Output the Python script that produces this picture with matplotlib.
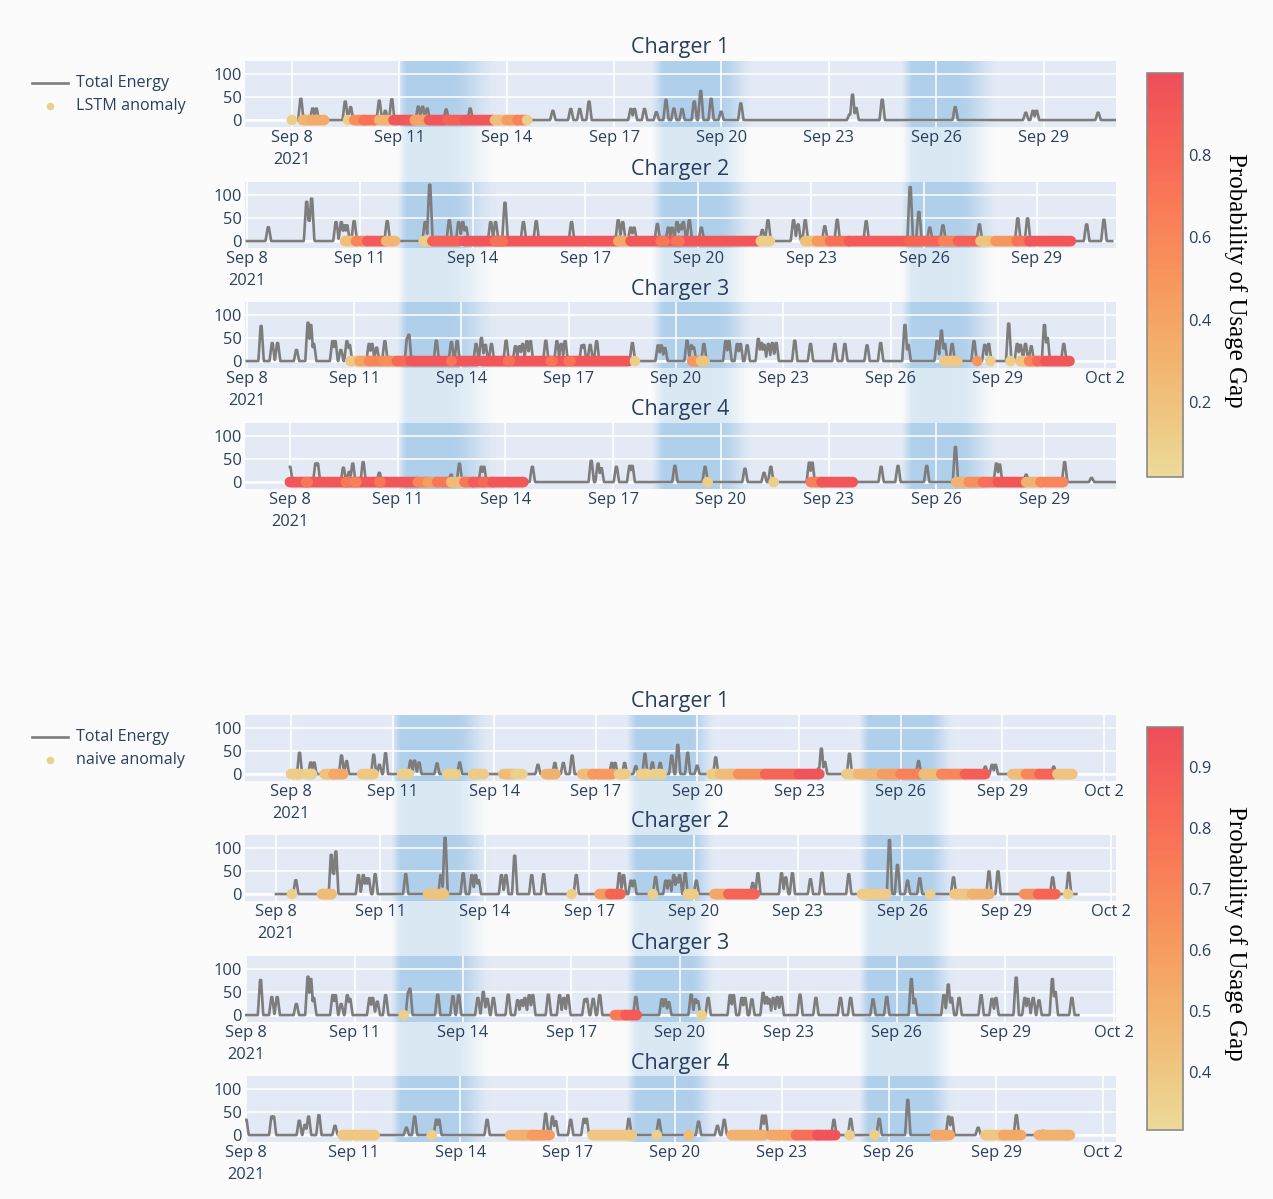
import numpy as np
import matplotlib
matplotlib.use("Agg")
import matplotlib.pyplot as plt
from matplotlib.colors import LinearSegmentedColormap, Normalize
from matplotlib.cm import ScalarMappable
from matplotlib.lines import Line2D

plt.rcParams['font.family'] = ['Open Sans', 'DejaVu Sans']

# ---------------- data (time axis: days since 2021-09-08) ----------------
tick_days = [0, 3, 6, 9, 12, 15, 18, 21, 24]
tick_labels = ["Sep 8\n2021", "Sep 11", "Sep 14", "Sep 17", "Sep 20",
               "Sep 23", "Sep 26", "Sep 29", "Oct 2"]
charger_names = ["Charger 1", "Charger 2", "Charger 3", "Charger 4"]

# total energy: spike times (days) and peak energy
c1_days = [0.25, 0.58, 0.68, 1.49, 1.64, 2.44, 2.61, 2.79, 3.53, 3.65, 3.78, 4.31, 4.98,
           7.29, 7.79, 8.04, 8.30, 9.47, 9.57, 9.85, 10.18, 10.45, 10.67, 10.90, 11.24,
           11.42, 11.71, 11.99, 12.54, 15.58, 15.66, 15.76, 16.49, 18.53, 20.50, 20.70,
           20.80, 22.52]
c1_energy = [46, 25, 25, 40, 28, 42, 20, 45, 29, 29, 25, 23, 25,
             20, 24, 24, 40, 24, 24, 24, 17, 44, 25, 24, 40,
             63, 46, 18, 36, 12, 55, 26, 44, 28, 16, 20,
             20, 16]
c2_days = [0.57, 1.59, 1.65, 1.72, 2.37, 2.51, 2.59, 2.66, 2.85, 3.73, 4.74, 4.86, 5.38,
           5.63, 5.74, 5.82, 6.48, 6.61, 6.86, 7.35, 7.69, 8.63, 9.87, 9.99, 10.20, 10.29,
           10.91, 11.20, 11.30, 11.43, 11.52, 11.60, 11.76, 12.08, 13.70, 13.85, 14.53,
           14.65, 14.84, 15.36, 15.69, 16.46, 17.63, 17.86, 18.15, 18.50, 19.47, 20.49,
           20.75, 22.32, 22.78]
c2_energy = [30, 85, 45, 92, 41, 41, 34, 34, 43, 43, 41, 122, 45,
             41, 41, 30, 41, 41, 83, 41, 43, 41, 45, 41, 29, 29,
             37, 29, 29, 41, 35, 41, 45, 29, 24, 45, 45,
             36, 45, 32, 46, 43, 117, 63, 29, 34, 36, 49,
             49, 36, 46]
c3_days = [0.40, 0.71, 0.86, 1.39, 1.71, 1.79, 1.87, 2.40, 2.47, 2.63, 2.80, 2.87, 3.42,
           3.50, 3.63, 3.86, 4.49, 4.53, 5.30, 5.72, 5.88, 6.41, 6.56, 6.67, 6.84, 7.25,
           7.51, 7.62, 7.71, 7.83, 7.93, 8.36, 8.67, 8.79, 8.90, 9.37, 9.42, 9.60, 9.78,
           10.78, 11.50, 11.59, 11.69, 12.31, 12.43, 12.49, 12.78, 13.39, 13.48, 13.71,
           13.80, 13.99, 14.30, 14.39, 14.46, 14.58, 14.69, 14.80, 15.32, 15.76, 16.44,
           16.72, 17.34, 17.72, 18.40, 18.49, 19.30, 19.42, 19.51, 19.72, 20.33, 20.63,
           20.74, 21.30, 21.54, 21.63, 21.77, 21.93, 22.30, 22.38, 22.84]
c3_energy = [76, 39, 39, 24, 83, 78, 37, 43, 43, 24, 43, 35, 37,
             37, 29, 43, 50, 57, 44, 41, 43, 37, 50, 35, 37, 44,
             32, 32, 37, 43, 43, 44, 43, 37, 43, 34, 35, 35, 43,
             39, 34, 34, 28, 44, 34, 30, 37, 43, 43, 37,
             37, 34, 48, 39, 35, 37, 39, 39, 44, 37, 37,
             37, 34, 39, 78, 35, 43, 66, 37, 37, 43, 35,
             37, 81, 37, 35, 37, 32, 78, 50, 37]
c4_days = [0.00, 0.72, 0.77, 1.49, 1.65, 1.75, 2.04, 2.49, 4.49, 4.72, 5.33, 5.40, 6.75,
           8.39, 8.58, 8.67, 9.09, 9.46, 9.53, 10.72, 11.56, 12.67, 13.20, 13.39, 14.46,
           14.54, 16.46, 16.93, 17.73, 18.53, 19.67, 19.76, 20.50, 21.57, 22.32]
c4_energy = [33, 40, 40, 31, 22, 40, 43, 20, 16, 40, 33, 33, 33,
             46, 40, 30, 33, 35, 35, 35, 33, 29, 20, 33, 42,
             42, 33, 35, 35, 76, 40, 38, 16, 43, 9]
line_start = [0.0, 0.0, 0.0, 0.0]
line_end = [23.0, 23.0, 23.03, 23.0]

# anomaly segments: (first day, last day, probability of usage gap)
lstm_c1 = [(0.0, 0.0, 0.12), (0.3, 0.55, 0.30), (0.55, 0.9, 0.36), (1.57, 1.57, 0.12),
           (1.74, 2.0, 0.55), (2.0, 2.34, 0.72), (2.44, 2.79, 0.30), (2.84, 3.38, 0.93),
           (3.43, 3.78, 0.42), (3.83, 4.28, 0.93), (4.35, 4.78, 0.86), (4.83, 5.62, 0.93),
           (5.67, 6.0, 0.22), (6.0, 6.3, 0.45), (6.3, 6.52, 0.62), (6.57, 6.57, 0.12)]
lstm_c2 = [(2.61, 2.9, 0.22), (2.9, 3.2, 0.6), (3.2, 3.7, 0.9), (3.7, 3.94, 0.28),
           (4.7, 4.89, 0.12), (4.93, 5.64, 0.86), (5.78, 9.87, 0.93), (6.6, 6.8, 0.75),
           (9.87, 10.2, 0.38), (10.2, 13.6, 0.93), (11.0, 11.1, 0.7), (11.4, 11.5, 0.72),
           (13.66, 13.9, 0.12), (14.84, 15.15, 0.22), (15.15, 15.5, 0.48), (15.5, 16.0, 0.75),
           (16.0, 17.6, 0.9), (17.6, 18.4, 0.83), (18.5, 18.9, 0.62), (18.9, 19.47, 0.85),
           (19.5, 19.9, 0.18), (19.9, 20.46, 0.5), (20.46, 20.8, 0.72), (20.8, 21.9, 0.93)]
lstm_c3 = [(2.9, 3.15, 0.15), (3.15, 3.42, 0.4), (3.42, 3.79, 0.6), (3.84, 4.2, 0.55),
           (4.2, 4.53, 0.8), (4.58, 5.7, 0.93), (5.74, 6.44, 0.93), (6.58, 10.67, 0.93),
           (5.72, 5.72, 0.7), (7.3, 7.35, 0.75), (8.5, 8.55, 0.72), (9.0, 9.05, 0.72),
           (10.85, 10.85, 0.12), (12.45, 12.7, 0.5), (12.7, 12.8, 0.18), (19.5, 19.86, 0.15),
           (20.42, 20.42, 0.5), (20.79, 20.79, 0.12), (21.35, 21.35, 0.12),
           (21.63, 21.87, 0.18), (21.87, 22.1, 0.6), (22.1, 22.28, 0.8), (22.33, 23.0, 0.93)]
lstm_c4 = [(0.0, 3.56, 0.93), (0.45, 0.5, 0.7), (1.56, 1.6, 0.7), (1.8, 1.85, 0.65),
           (2.49, 2.52, 0.7), (3.56, 3.84, 0.6), (3.84, 4.1, 0.45), (4.1, 4.49, 0.7),
           (4.49, 4.86, 0.25), (4.86, 5.1, 0.7), (5.1, 5.37, 0.88), (5.37, 5.65, 0.8),
           (5.65, 6.5, 0.93), (11.63, 11.63, 0.1), (13.47, 13.47, 0.1), (14.5, 14.8, 0.65),
           (14.8, 15.67, 0.93), (18.55, 18.9, 0.3), (18.9, 19.3, 0.55), (19.3, 19.67, 0.75),
           (19.71, 20.45, 0.92), (20.5, 20.9, 0.3), (20.9, 21.53, 0.6)]

naive_c1 = [(0.0, 0.28, 0.38), (0.45, 0.62, 0.36), (0.99, 1.25, 0.42), (1.25, 1.54, 0.55),
            (2.1, 2.44, 0.4), (3.28, 3.48, 0.36), (4.61, 4.86, 0.36), (5.38, 5.69, 0.38),
            (6.27, 6.58, 0.45), (6.63, 6.83, 0.36), (7.52, 7.81, 0.5), (8.6, 8.9, 0.45),
            (8.9, 9.49, 0.62), (9.68, 9.88, 0.38), (10.33, 10.52, 0.36), (10.72, 10.94, 0.36),
            (12.42, 12.61, 0.38), (12.66, 13.2, 0.45), (13.2, 14.0, 0.65), (14.0, 15.0, 0.85),
            (15.0, 15.6, 0.93), (16.4, 16.7, 0.38), (16.75, 17.35, 0.48), (17.45, 18.0, 0.6),
            (18.0, 18.58, 0.72), (18.68, 19.2, 0.45), (19.2, 19.9, 0.7), (19.9, 20.5, 0.88),
            (21.3, 21.7, 0.45), (21.7, 22.1, 0.7), (22.1, 22.52, 0.85), (22.63, 23.07, 0.42)]
naive_c2 = [(0.46, 0.46, 0.36), (1.32, 1.6, 0.45), (4.37, 4.83, 0.42), (8.5, 8.5, 0.36),
            (9.3, 9.6, 0.6), (9.6, 9.9, 0.85), (10.83, 10.83, 0.36), (11.84, 12.0, 0.38),
            (12.6, 13.0, 0.55), (13.0, 13.76, 0.85), (16.84, 17.53, 0.38), (18.8, 18.8, 0.36),
            (19.5, 20.0, 0.4), (20.0, 20.5, 0.5), (21.5, 21.9, 0.65), (21.9, 22.4, 0.85),
            (22.76, 22.76, 0.36)]
naive_c3 = [(4.36, 4.36, 0.36), (10.2, 10.5, 0.75), (10.5, 10.8, 0.9), (12.6, 12.6, 0.36)]
naive_c4 = [(2.7, 3.6, 0.4), (5.2, 5.2, 0.36), (7.4, 8.0, 0.5), (8.0, 8.5, 0.6),
            (9.7, 10.8, 0.4), (11.5, 11.5, 0.36), (12.4, 12.4, 0.45), (13.6, 14.5, 0.5),
            (14.7, 15.4, 0.55), (15.4, 16.0, 0.8), (16.0, 16.5, 0.93), (16.9, 16.9, 0.36),
            (17.6, 17.6, 0.36), (19.3, 19.7, 0.55), (20.7, 21.2, 0.4), (21.2, 21.7, 0.55),
            (22.2, 23.07, 0.5)]

lstm_segments = [lstm_c1, lstm_c2, lstm_c3, lstm_c4]
naive_segments = [naive_c1, naive_c2, naive_c3, naive_c4]
energy_days = [c1_days, c2_days, c3_days, c4_days]
energy_vals = [c1_energy, c2_energy, c3_energy, c4_energy]

# ---------------- layout ----------------
W, H = 1273, 1199
TXT = '#2a3f5f'
PLOT_BG = '#e3eaf5'
LINE_C = '#7d7d7d'
cmap = LinearSegmentedColormap.from_list(
    'oryel', ['#ecda9a', '#efc47e', '#f3ad6a', '#f7945d', '#f97b57', '#f66356', '#ee4d5a'])

PX_L, PX_R = 245, 1116
groups = [
    dict(tops=[61, 182, 302, 423], segs=lstm_segments, name='LSTM anomaly',
         xlims=[(-1.31, 23.02), (-0.05, 23.1), (-0.05, 24.3), (-1.25, 23.0)],
         norm=(0.017, 1.0), cticks=[0.2, 0.4, 0.6, 0.8], cbar=(73, 477),
         bands=[(396, 408, 450, 500), (650, 665, 718, 755), (900, 914, 958, 1000)],
         legend_y=83),
    dict(tops=[715, 835, 956, 1076], segs=naive_segments, name='naive anomaly',
         xlims=[(-1.36, 24.36), (-0.89, 24.14), (-0.03, 24.06), (-0.03, 24.36)],
         norm=(0.305, 0.966), cticks=[0.4, 0.5, 0.6, 0.7, 0.8, 0.9], cbar=(727, 1130),
         bands=[(390, 402, 455, 492), (625, 638, 690, 717), (858, 870, 928, 955)],
         legend_y=737),
]
AX_H = 66

fig = plt.figure(figsize=(W / 100, H / 100), dpi=100)
fig.patch.set_facecolor('#fbfbfb')

bg = fig.add_axes([0, 0, 1, 1], zorder=-5)
bg.set_xlim(0, W)
bg.set_ylim(H, 0)
bg.axis('off')
bg.patch.set_alpha(0)


def band_rgba(bands, amax):
    xs = np.arange(PX_L, PX_R) + 0.5
    a = np.zeros_like(xs)
    for x0, x1, x2, x3 in bands:
        up = np.clip((xs - x0) / (x1 - x0), 0, 1)
        dn = np.clip((x3 - xs) / (x3 - x2), 0, 1)
        v = np.minimum(up, dn)
        v = v * v * (3 - 2 * v)
        a = np.maximum(a, v)
    img = np.zeros((1, len(xs), 4))
    img[..., 0] = 0.45
    img[..., 1] = 0.69
    img[..., 2] = 0.88
    img[..., 3] = a * amax
    return img


def energy_line(days, vals, start, end, half=0.075, top=0.015):
    t = np.arange(start, end + 1e-9, 1 / 96)
    extra = [d + o for d in days for o in (-top, top) if start <= d + o <= end]
    t = np.union1d(t, extra)
    y = np.zeros_like(t)
    for d, v in zip(days, vals):
        shape = np.clip((half - np.abs(t - d)) / (half - top), 0, 1)
        y = np.maximum(y, v * shape)
    return t, y


def anomaly_points(segs):
    xs, ps = [], []
    for a, b, p in segs:
        n = max(1, int(round((b - a) * 24)) + 1)
        xs.extend(np.linspace(a, b, n))
        ps.extend([p] * n)
    return np.array(xs), np.array(ps)


for g in groups:
    norm = Normalize(*g['norm'])
    top0 = g['tops'][0]
    bot3 = g['tops'][-1] + AX_H
    bg.imshow(band_rgba(g['bands'], 0.24), extent=(PX_L, PX_R, bot3, top0),
              aspect='auto', interpolation='bilinear', zorder=0)
    inplot = band_rgba(g['bands'], 0.45)
    for i in range(4):
        top = g['tops'][i]
        ax = fig.add_axes([PX_L / W, 1 - (top + AX_H) / H, (PX_R - PX_L) / W, AX_H / H])
        ax.set_facecolor(PLOT_BG)
        ax.imshow(inplot, extent=(0, 1, 0, 1), transform=ax.transAxes, aspect='auto',
                  interpolation='bilinear', zorder=0.2)
        t, y = energy_line(energy_days[i], energy_vals[i], line_start[i], line_end[i])
        ax.plot(t, y, color=LINE_C, lw=1.9, zorder=2, solid_joinstyle='round')
        xs, ps = anomaly_points(g['segs'][i])
        ax.scatter(xs, np.zeros_like(xs), c=ps, cmap=cmap, norm=norm, s=58,
                   linewidths=0, zorder=3)
        ax.set_xlim(*g['xlims'][i])
        ax.set_ylim(-15, 128)
        lo, hi = g['xlims'][i]
        tv = [(d, l) for d, l in zip(tick_days, tick_labels) if lo <= d <= hi]
        ax.set_xticks([d for d, _ in tv])
        ax.set_xticklabels([l for _, l in tv], linespacing=1.45)
        ax.set_yticks([0, 50, 100])
        ax.set_axisbelow(True)
        ax.grid(True, color='white', lw=1.1, zorder=0.5)
        ax.axhline(0, color='white', lw=1.8, zorder=0.6)
        for s in ax.spines.values():
            s.set_visible(False)
        ax.tick_params(length=0, labelsize=11.8, labelcolor=TXT)
        ax.tick_params(axis='x', pad=2.5)
        ax.tick_params(axis='y', pad=2.5)
        fig.text((PX_L + PX_R) / 2 / W, 1 - (top - 13) / H, charger_names[i],
                 ha='center', va='center', fontsize=15.5, color=TXT)

    # colorbar
    c0, c1 = g['cbar']
    cax = fig.add_axes([1147 / W, 1 - c1 / H, 36 / W, (c1 - c0) / H])
    cb = fig.colorbar(ScalarMappable(norm=norm, cmap=cmap), cax=cax)
    cb.set_ticks(g['cticks'])
    cb.set_ticklabels([f"{v:.1f}" for v in g['cticks']])
    cb.outline.set_edgecolor('#8a8a8a')
    cb.outline.set_linewidth(1.2)
    cax.tick_params(length=0, labelsize=11.8, labelcolor=TXT, pad=4)
    fig.text(1235 / W, 1 - ((c0 + c1) / 2 + 5) / H, 'Probability of Usage Gap',
             rotation=270, ha='center', va='center', fontsize=18,
             family=['Liberation Serif', 'DejaVu Serif'], color='black')

    # legend
    ly = g['legend_y']
    bg.add_line(Line2D([32, 68], [ly, ly], color=LINE_C, lw=1.9))
    bg.scatter([50], [ly + 23], s=30, color='#e6d28c', linewidths=0)
    bg.text(76, ly, 'Total Energy', ha='left', va='center', fontsize=11.6, color=TXT)
    bg.text(76, ly + 23.5, g['name'], ha='left', va='center', fontsize=11.6, color=TXT)

fig.savefig('out.png', dpi=100, facecolor=fig.get_facecolor())
